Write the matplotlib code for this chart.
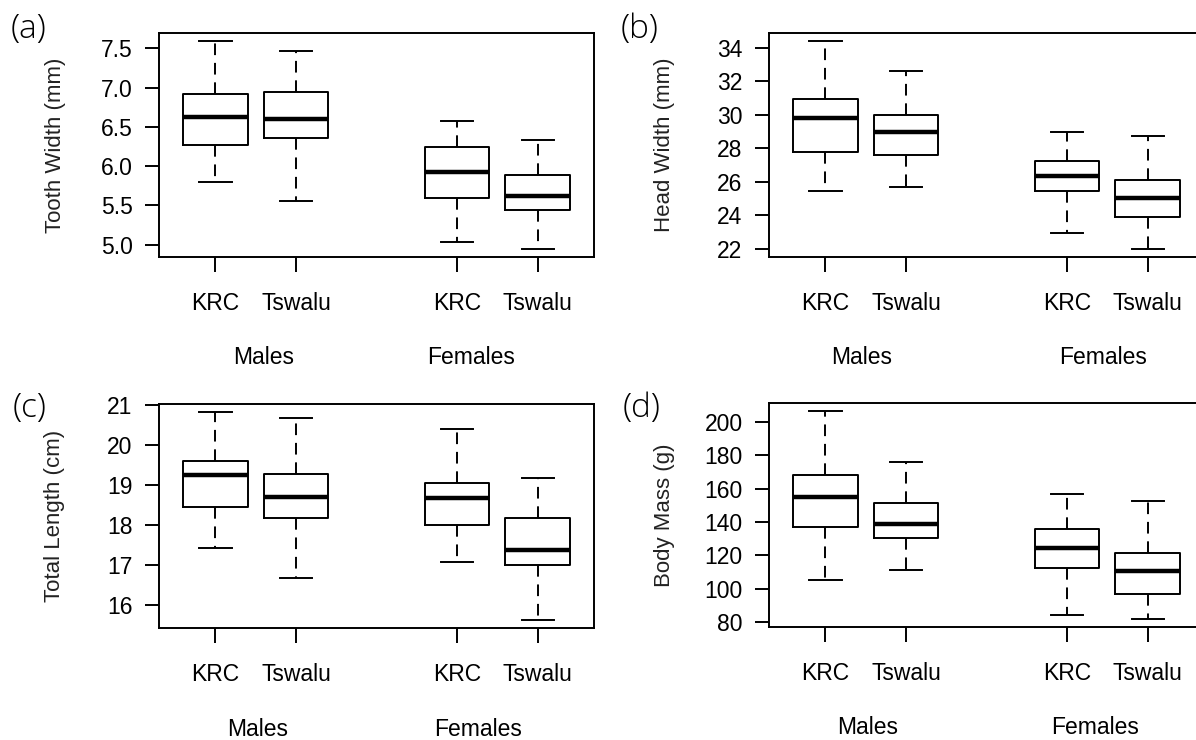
import matplotlib.pyplot as plt
import matplotlib.transforms as mtransforms

# groups in order: Males KRC, Males Tswalu, Females KRC, Females Tswalu
# each row: [lower whisker, Q1, median, Q3, upper whisker]
tick_labels = ["KRC", "Tswalu", "KRC", "Tswalu"]
sex_labels = ["Males", "Females"]

tooth_width = [[5.80, 6.27, 6.63, 6.92, 7.59],
               [5.56, 6.36, 6.60, 6.94, 7.47],
               [5.04, 5.60, 5.92, 6.25, 6.58],
               [4.95, 5.44, 5.62, 5.89, 6.34]]
head_width = [[25.47, 27.78, 29.81, 30.93, 34.40],
              [25.69, 27.58, 28.96, 29.99, 32.62],
              [22.96, 25.47, 26.33, 27.24, 28.96],
              [22.00, 23.89, 25.05, 26.09, 28.74]]
total_length = [[17.43, 18.44, 19.24, 19.59, 20.82],
                [16.67, 18.18, 18.70, 19.27, 20.68],
                [17.07, 18.00, 18.66, 19.04, 20.41],
                [15.62, 16.99, 17.38, 18.18, 19.18]]
body_mass = [[105.3, 136.8, 154.8, 168.3, 206.2],
             [111.5, 130.4, 138.8, 151.6, 175.7],
             [84.2, 112.7, 124.3, 135.6, 156.5],
             [82.2, 96.7, 110.5, 121.3, 152.6]]

ylabels = ["Tooth Width (mm)", "Head Width (mm)", "Total Length (cm)", "Body Mass (g)"]
yticks = [[5.0, 5.5, 6.0, 6.5, 7.0, 7.5],
          [22, 24, 26, 28, 30, 32, 34],
          [16, 17, 18, 19, 20, 21],
          [80, 100, 120, 140, 160, 180, 200]]
ytick_fmt = ["{:.1f}", "{:d}", "{:d}", "{:d}"]
panel_tags = ["(a)", "(b)", "(c)", "(d)"]

positions = [1, 2, 4, 5]

W, H = 1196, 740
fig = plt.figure(figsize=(W / 100, H / 100), dpi=100)

frames = [(159, 33), (769, 33), (159, 404), (769, 403)]
fw, fh = 435, 224
tag_xy = [(29, 29), (640, 29), (30, 408), (642, 408)]
sex_x = [[1.60, 4.17], [1.45, 4.45], [1.53, 4.26], [1.53, 4.35]]
ylab_off = [93, 94, 94, 94]

font = "Liberation Sans"
lw = 1.4

for i, data in enumerate([tooth_width, head_width, total_length, body_mass]):
    left, top = frames[i]
    ax = fig.add_axes([left / W, (H - top - fh) / H, fw / W, fh / H])
    stats = [dict(whislo=d[0], q1=d[1], med=d[2], q3=d[3], whishi=d[4], fliers=[])
             for d in data]
    ax.bxp(stats, positions=positions, widths=0.8, capwidths=0.4,
           showfliers=False, patch_artist=False,
           boxprops=dict(color="black", linewidth=lw),
           medianprops=dict(color="black", linewidth=3.2, solid_capstyle="butt"),
           whiskerprops=dict(color="black", linewidth=lw, linestyle=(0, (6, 4))),
           capprops=dict(color="black", linewidth=lw))

    lo = min(d[0] for d in data)
    hi = max(d[4] for d in data)
    pad = 0.04 * (hi - lo)
    ax.set_ylim(lo - pad, hi + pad)
    ax.set_xlim(0.3, 5.7)

    ax.set_yticks(yticks[i])
    ax.set_yticklabels([ytick_fmt[i].format(v) for v in yticks[i]])
    ax.set_xticks(positions)
    ax.set_xticklabels(tick_labels)
    ax.tick_params(axis="y", length=10, width=lw, pad=9, labelsize=16.5)
    ax.tick_params(axis="x", length=11, width=lw, pad=14, labelsize=16.5)
    for lab in ax.get_xticklabels() + ax.get_yticklabels():
        lab.set_fontfamily(font)

    for sp in ax.spines.values():
        sp.set_linewidth(lw)

    ax.set_ylabel(ylabels[i], fontsize=16, fontfamily=font, color="#222222")
    ax.yaxis.set_label_coords(-ylab_off[i] / fw, 0.5)

    trans = mtransforms.blended_transform_factory(ax.transData, ax.transAxes)
    for xs, name in zip(sex_x[i], sex_labels):
        ax.text(xs, -101 / fh, name, transform=trans, ha="center", va="center",
                fontsize=16.5, fontfamily=font, clip_on=False)

    tx, ty = tag_xy[i]
    fig.text(tx / W, 1 - ty / H, panel_tags[i], ha="center", va="center",
             fontsize=24, fontfamily="Open Sans", fontweight="light", color="black")

fig.savefig("out.png", dpi=100)
